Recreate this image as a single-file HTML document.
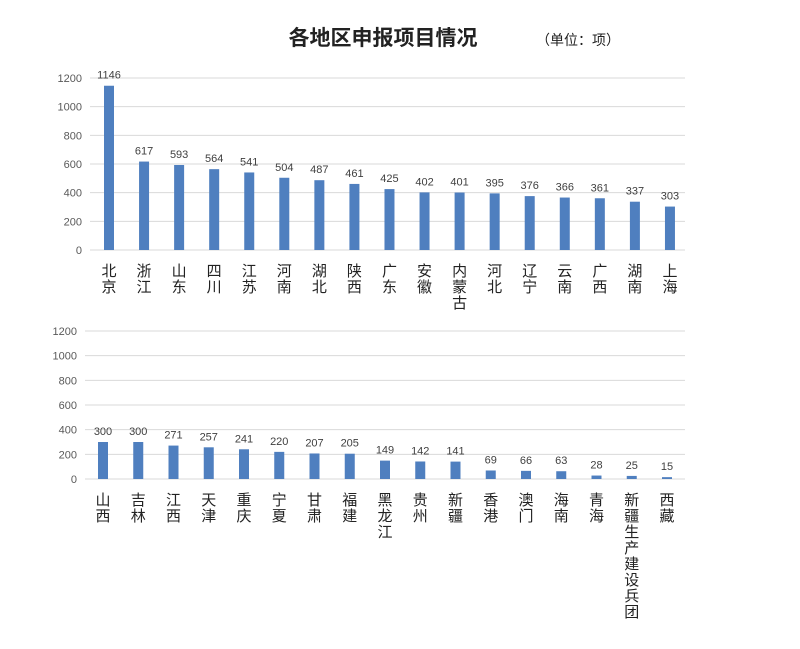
<!DOCTYPE html>
<html><head><meta charset="utf-8"><style>
body{margin:0;background:#fff;}
svg text{font-family:"Liberation Sans","Noto Sans CJK SC",sans-serif;}
</style></head><body>
<svg width="800" height="644" xmlns="http://www.w3.org/2000/svg">
<text x="383" y="45" text-anchor="middle" font-size="21" font-weight="bold" fill="#222">各地区申报项目情况</text>
<text x="578" y="45" text-anchor="middle" font-size="14" fill="#222">（单位：项）</text>
<g id="top"></g>
<g id="bot"></g>
</svg>
<script>
const topCategories=["北京","浙江","山东","四川","江苏","河南","湖北","陕西","广东","安徽","内蒙古","河北","辽宁","云南","广西","湖南","上海"];
const topValues=[1146,617,593,564,541,504,487,461,425,402,401,395,376,366,361,337,303];
const botCategories=["山西","吉林","江西","天津","重庆","宁夏","甘肃","福建","黑龙江","贵州","新疆","香港","澳门","海南","青海","新疆生产建设兵团","西藏"];
const botValues=[300,300,271,257,241,220,207,205,149,142,141,69,66,63,28,25,15];
const yTicks=[0,200,400,600,800,1000,1200];
const NS="http://www.w3.org/2000/svg";
function mk(p,t,a){const e=document.createElementNS(NS,t);for(const k in a)e.setAttribute(k,a[k]);p.appendChild(e);return e;}
function draw(g,cats,vals,cfg){
  const y=v=>cfg.y0-(v/1200)*(cfg.y0-cfg.y1);
  const x=i=>cfg.x0+i*cfg.step;
  yTicks.forEach(t=>{
    const l=mk(g,"line",{x1:cfg.gx,x2:685,y1:y(t),y2:y(t),stroke:"#d9d9d9","stroke-width":1});
    
    
    const tx=mk(g,"text",{x:cfg.gx-8,y:y(t)+4,"text-anchor":"end","font-size":11,fill:"#595959"});
    tx.textContent=t;
    
    
  });
  vals.forEach((v,i)=>{
    const b=mk(g,"rect",{x:x(i)-5,y:y(v),width:10,height:y(0)-y(v),fill:"#4f7fbf"});
    
    
    const t=mk(g,"text",{x:x(i),y:y(v)-7,"text-anchor":"middle","font-size":11,fill:"#404040"});
    t.textContent=v;
    
    
    [...cats[i]].forEach((c,j)=>{
      const ct=mk(g,"text",{x:x(i),y:cfg.ly+j*16,"text-anchor":"middle","font-size":15,fill:"#222"});
      ct.textContent=c;
      
      
    });
  });
}
draw(document.getElementById("top"),topCategories,topValues,{y0:250,y1:78,x0:109,step:35.06,gx:90,ly:276});
draw(document.getElementById("bot"),botCategories,botValues,{y0:479,y1:331,x0:103,step:35.25,gx:85,ly:505});
</script>
</body></html>
